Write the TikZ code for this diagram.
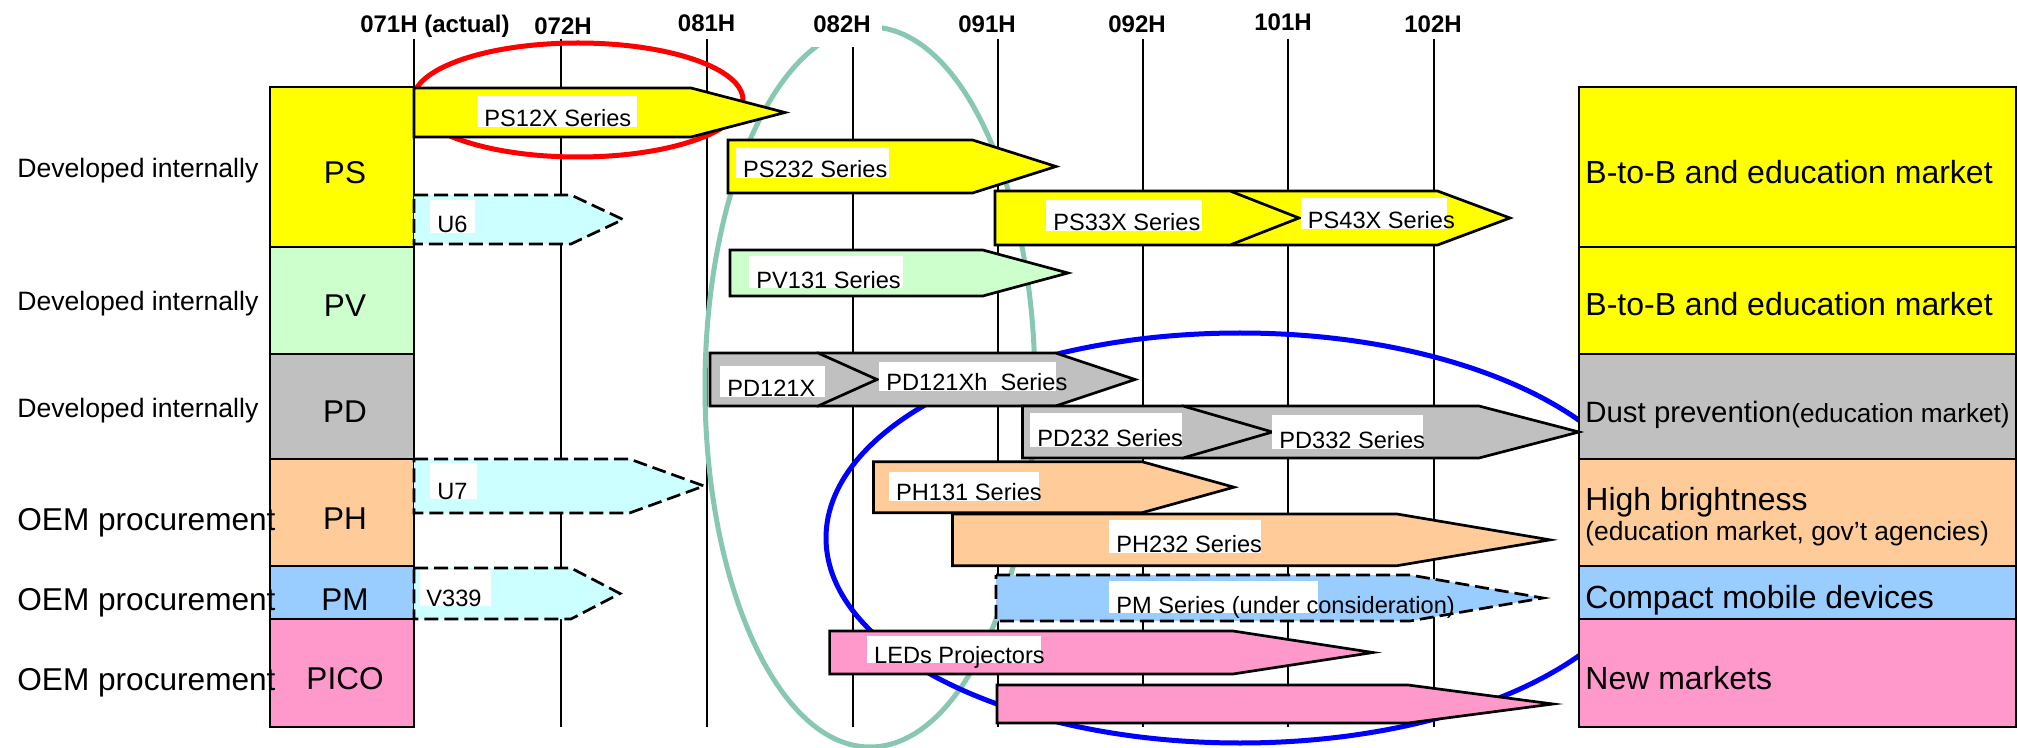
\documentclass[tikz,border=0pt]{standalone}
\usepackage{fontspec}
\setmainfont{Liberation Sans}
\definecolor{cYellow}{RGB}{255,255,0}
\definecolor{cGreen}{RGB}{204,255,204}
\definecolor{cGray}{RGB}{192,192,192}
\definecolor{cOrange}{RGB}{255,204,153}
\definecolor{cBlue}{RGB}{153,204,255}
\definecolor{cPink}{RGB}{255,153,204}
\definecolor{cCyan}{RGB}{204,255,255}
\definecolor{cTeal}{RGB}{136,200,176}
\newcommand\pent[6]{\path[#1] (#2,#3) -- (#5,#3) -- (#6,{(#3+#4)/2}) -- (#5,#4) -- (#2,#4) -- cycle;}
\newcommand\alab[6]{\fill[white] (#2,#3) rectangle (#4,#5); \node[lbltext] (#1) at ({#2+7},#5) {#6};}
\begin{document}
\begin{tikzpicture}[x=0.5pt,y=-0.5pt,
  vline/.style={line width=1pt},
  catbox/.style={draw, line width=1.4pt},
  arr/.style={draw, line width=1.35pt, line join=miter},
  darr/.style={arr, dash pattern=on 7pt off 3pt},
  lbltext/.style={inner sep=0, anchor=base west, font=\fontsize{11.8}{13}\selectfont},
  toplab/.style={inner sep=0, anchor=base, font=\bfseries\fontsize{12}{14}\selectfont},
  devtext/.style={inner sep=0, anchor=base west, font=\fontsize{13.3}{15}\selectfont},
  oemtext/.style={inner sep=0, anchor=base west, font=\fontsize{15.8}{18}\selectfont},
  cattext/.style={inner sep=0, anchor=base, font=\fontsize{15.75}{18}\selectfont},
  mkttext/.style={inner sep=0, anchor=base west, font=\fontsize{16}{19}\selectfont},
  smalltext/.style={inner sep=0, anchor=base west, font=\fontsize{13.2}{15}\selectfont},
  ell/.style={line width=2.5pt}
]
\useasboundingbox (0,0) rectangle (2018,748);
% vertical timeline lines
\foreach \x in {414,560.5,706.5,852.5,998,1143,1288,1434}
  \draw[vline] (\x,39) -- (\x,727);
% ellipses
\draw[ell, red] (578,100) ellipse [x radius=165, y radius=57];
\draw[ell, cTeal] (870,387) ellipse [x radius=165, y radius=360];
\draw[ell, blue] (1240,538) ellipse [x radius=414, y radius=205];
% top labels
\fill[white] (812,0) rectangle (882,47);
\node[toplab] (t071) at (435,33) {071H (actual)};
\node[toplab] (t072) at (563,35) {072H};
\node[toplab] (t081) at (706.6,32) {081H};
\node[toplab] (t082) at (842,33) {082H};
\node[toplab] (t091) at (987,33) {091H};
\node[toplab] (t092) at (1137,33) {092H};
\node[toplab] (t101) at (1283,31) {101H};
\node[toplab] (t102) at (1433,33) {102H};
% left category boxes
\path[catbox, fill=cYellow] (270,87) rectangle (414,247);
\path[catbox, fill=cGreen] (270,247) rectangle (414,354);
\path[catbox, fill=cGray] (270,354) rectangle (414,459);
\path[catbox, fill=cOrange] (270,459) rectangle (414,566);
\path[catbox, fill=cBlue] (270,566) rectangle (414,619);
\path[catbox, fill=cPink] (270,619) rectangle (414,727);
\node[cattext] (cPS) at (345,183.3) {PS};
\node[cattext] (cPV) at (345,317) {PV};
\node[cattext] (cPD) at (345,422.7) {PD};
\node[cattext] (cPH) at (345,529.3) {PH};
\node[cattext] (cPM) at (345,610.7) {PM};
\node[cattext] (cPICO) at (345,689.3) {PICO};
% left descriptions
\node[devtext] (d1) at (17,177.3) {Developed internally};
\node[devtext] (d2) at (17,311) {Developed internally};
\node[devtext] (d3) at (17,417.3) {Developed internally};
\node[oemtext] (o1) at (17,530) {OEM procurement};
\node[oemtext] (o2) at (17,610) {OEM procurement};
\node[oemtext] (o3) at (17,690) {OEM procurement};
% right market boxes
\path[catbox, fill=cYellow] (1579,87) rectangle (2016,247);
\path[catbox, fill=cYellow] (1579,247) rectangle (2016,354);
\path[catbox, fill=cGray] (1579,354) rectangle (2016,459);
\path[catbox, fill=cOrange] (1579,459) rectangle (2016,566);
\path[catbox, fill=cBlue] (1579,566) rectangle (2016,619);
\path[catbox, fill=cPink] (1579,619) rectangle (2016,727);
\node[mkttext] (m1) at (1585,183.3) {B-to-B and education market};
\node[mkttext] (m2) at (1585,316) {B-to-B and education market};
\node[inner sep=0, anchor=base west] (m3) at (1585,422.7) {\fontsize{14.7}{17}\selectfont Dust prevention\fontsize{13.1}{15}\selectfont(education market)};
\node[mkttext] (m4) at (1585,510.7) {High brightness};
\node[smalltext] (m4b) at (1585,540.7) {(education market, gov’t agencies)};
\node[mkttext] (m5) at (1585,608.3) {Compact mobile devices};
\node[mkttext] (m6) at (1585,689.3) {New markets};
% product arrows
\pent{arr, fill=cYellow}{414}{88}{137}{691}{785}
\alab{aPS12X}{477}{96}{637}{127}{PS12X Series}
\pent{arr, fill=cYellow}{728}{140}{193}{972.5}{1056}
\alab{aPS232}{735.7}{147}{888.8}{178}{PS232 Series}
\pent{arr, fill=cYellow}{1232}{191}{245}{1437.5}{1510}
\pent{arr, fill=cYellow}{995}{191}{245}{1230}{1299}
\alab{aPS33X}{1046}{200}{1202}{231}{PS33X Series}
\alab{aPS43X}{1300.5}{198}{1447}{229}{PS43X Series}
\pent{darr, fill=cCyan}{414}{195}{244}{571}{623}
\alab{aU6}{430}{200}{474.5}{233}{U6}
\pent{arr, fill=cGreen}{730}{250}{296}{982.7}{1068}
\alab{aPV131}{749}{256}{902.7}{288.3}{PV131 Series}
\pent{arr, fill=cGray}{818}{353}{406}{1055.6}{1135}
\pent{arr, fill=cGray}{710}{353}{406}{818}{877}
\alab{aPD121X}{720}{366}{825}{396.7}{PD121X}
\alab{aPD121Xh}{879}{362}{1055.6}{390.7}{PD121Xh\ \ Series}
\pent{arr, fill=cGray}{1183}{406}{458}{1479}{1579}
\pent{arr, fill=cGray}{1022.4}{406}{458}{1183}{1272.4}
\alab{aPD232}{1030}{413}{1182}{446.7}{PD232 Series}
\alab{aPD332}{1272}{415}{1423}{449}{PD332 Series}
\pent{darr, fill=cCyan}{414}{459}{513}{629.5}{704}
\alab{aU7}{430}{462.7}{477}{499}{U7}
\pent{arr, fill=cOrange}{873.5}{461.7}{512.7}{1142}{1234}
\alab{aPH131}{888.8}{471.7}{1038.8}{500.7}{PH131 Series}
\pent{arr, fill=cOrange}{952.5}{514}{565.7}{1397}{1550}
\alab{aPH232}{1109}{520}{1261}{552.7}{PH232 Series}
\pent{darr, fill=cCyan}{414}{568}{619}{571}{620}
\fill[white] (419.6,570) rectangle (491,606);
\node[lbltext] (aV339) at (426,606) {V339};
\pent{darr, fill=cBlue}{996}{575}{621}{1410}{1543}
\alab{aPM}{1109}{580.7}{1318}{613}{PM Series (under consideration)}
\pent{arr, fill=cPink}{829.6}{631}{674}{1233}{1373}
\alab{aLED}{866.8}{636}{1041}{663}{LEDs Projectors}
\pent{arr, fill=cPink}{997}{685}{723}{1408}{1553}
\end{tikzpicture}
\end{document}
